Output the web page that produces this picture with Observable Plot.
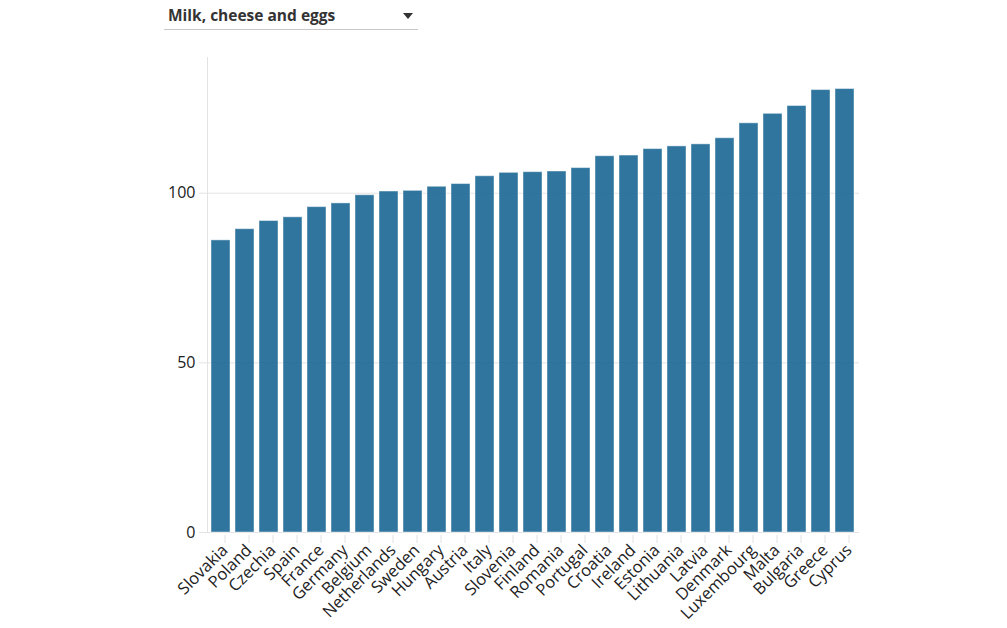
<!DOCTYPE html>
<html>
<head>
<meta charset="utf-8">
<script src="https://cdn.jsdelivr.net/npm/d3@7"></script>
<script src="https://cdn.jsdelivr.net/npm/@observablehq/plot@0.6"></script>
<style>
  body { margin: 0; background: #fff; font-family: "Open Sans", sans-serif; }
  #wrap { position: relative; width: 1007px; height: 628px; }
  #dropdown {
    position: absolute; left: 164px; top: 0; width: 254px; height: 30px;
    border-bottom: 1px solid #c8c8c8; box-sizing: border-box;
    font-family: "Open Sans", sans-serif; font-weight: 700; font-size: 15.5px; color: #333;
    padding-left: 4px; line-height: 30px;
  }
  #dropdown .caret {
    position: absolute; right: 5px; top: 13px; width: 0; height: 0;
    border-left: 5.5px solid transparent; border-right: 5.5px solid transparent;
    border-top: 6px solid #333;
  }
  #chart { position: absolute; left: 0; top: 0; }
</style>
</head>
<body>
<div id="wrap">
  <div id="chart"></div>
  <div id="dropdown"><span>Milk, cheese and eggs</span><div class="caret"></div></div>
</div>
<script>
const countries = ["Slovakia","Poland","Czechia","Spain","France","Germany","Belgium","Netherlands","Sweden","Hungary","Austria","Italy","Slovenia","Finland","Romania","Portugal","Croatia","Ireland","Estonia","Lithuania","Latvia","Denmark","Luxembourg","Malta","Bulgaria","Greece","Cyprus"];
const values = [86.1, 89.4, 91.8, 92.9, 95.9, 97.0, 99.4, 100.5, 100.7, 101.9, 102.7, 105.0, 106.0, 106.2, 106.4, 107.4, 110.9, 111.1, 113.0, 113.8, 114.4, 116.2, 120.6, 123.4, 125.7, 130.4, 130.7];
const yTicks = [0, 50, 100];

const data = countries.map((c, i) => ({country: c, value: values[i]}));

const chart = Plot.plot({
  width: 1007,
  height: 628,
  marginTop: 57,
  marginBottom: 96,
  marginLeft: 207,
  marginRight: 148,
  style: {fontFamily: "Open Sans, sans-serif", fontSize: "16px", color: "#222", background: "transparent"},
  x: {domain: countries, paddingInner: 0.2, paddingOuter: 0.06, label: null},
  y: {domain: [0, 140], label: null},
  marks: [
    Plot.gridY(yTicks, {stroke: "#e3e3e3", strokeOpacity: 1}),
    Plot.frame({anchor: "left", stroke: "#e3e3e3"}),
    Plot.ruleY([0], {stroke: "#e3e3e3"}),
    Plot.barY(data, {x: "country", y: "value", fill: "#186693", fillOpacity: 0.9, stroke: "#ffffff", strokeOpacity: 0.45, strokeWidth: 1}),
    Plot.axisY(yTicks, {tickSize: 8, stroke: "#e3e3e3", fill: "#222", fontSize: 16, tickPadding: 4, label: null}),
    Plot.axisX({tickRotate: -45, tickSize: 8, stroke: "#e3e3e3", fill: "#222", fontSize: 16.5, tickPadding: 4, dx: 4, dy: 3, label: null})
  ]
});
document.getElementById("chart").appendChild(chart);
</script>
</body>
</html>
